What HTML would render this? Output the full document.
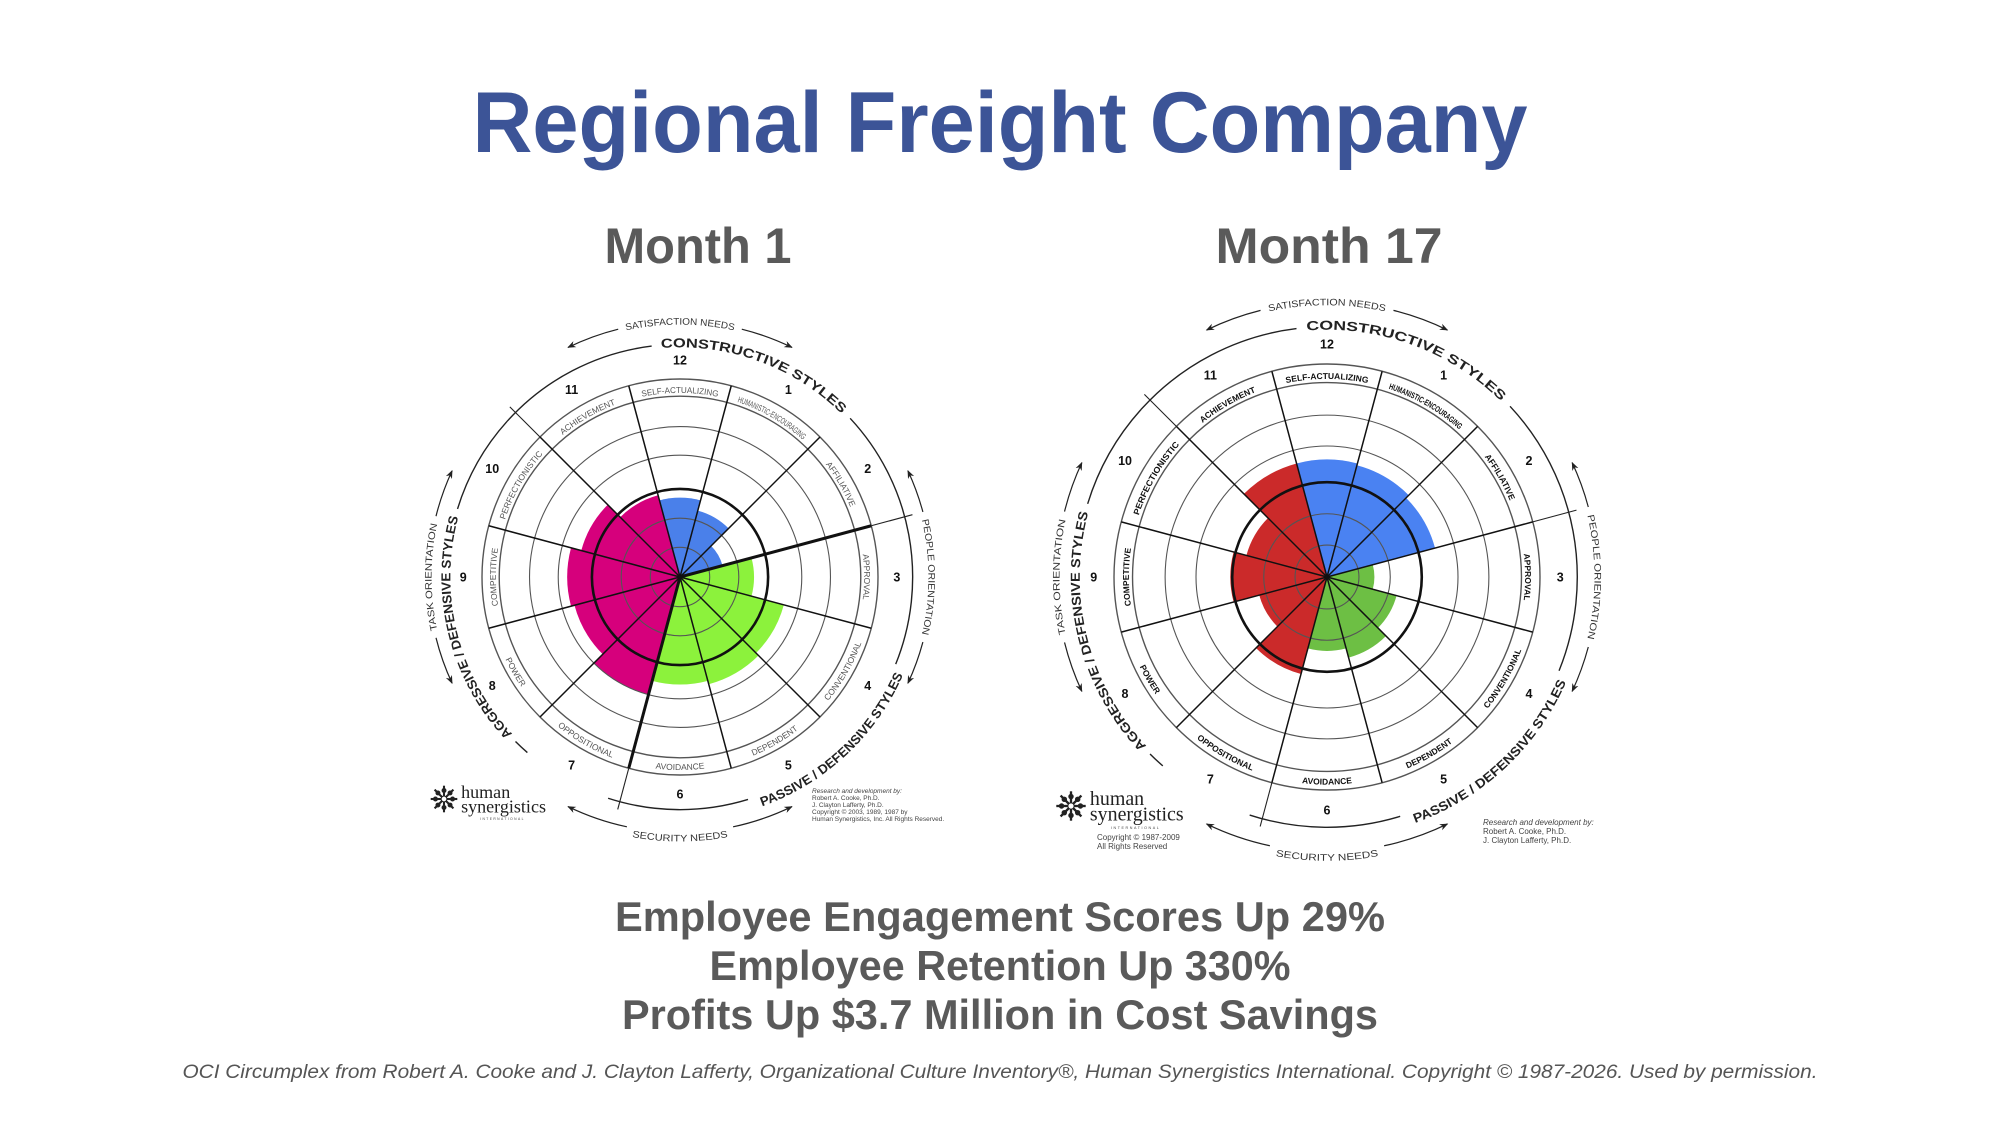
<!DOCTYPE html>
<html><head><meta charset="utf-8"><style>
html,body{margin:0;padding:0;background:#fff;}
svg{display:block;}
</style></head><body>
<svg id="page" width="2000" height="1125" viewBox="0 0 2000 1125" xmlns="http://www.w3.org/2000/svg" font-family="Liberation Sans, sans-serif">
<defs>
<marker id="ah" viewBox="0 0 10 10" refX="9" refY="5" markerWidth="7" markerHeight="7" orient="auto-start-reverse"><path d="M0,1 L10,5 L0,9 L3,5 Z" fill="#222"/></marker>
</defs>
<text x="1000" y="152" text-anchor="middle" font-size="86" font-weight="bold" fill="#3c5497" textLength="1055" lengthAdjust="spacingAndGlyphs">Regional Freight Company</text>
<text x="698" y="263" text-anchor="middle" font-size="50" font-weight="bold" fill="#5a5a5a" textLength="187" lengthAdjust="spacingAndGlyphs">Month 1</text>
<text x="1329" y="263" text-anchor="middle" font-size="50" font-weight="bold" fill="#5a5a5a" textLength="227" lengthAdjust="spacingAndGlyphs">Month 17</text>
<g id="chart1"></g>
<g id="chart2"></g>
<text x="1000" y="931" text-anchor="middle" font-size="42" font-weight="bold" fill="#5a5a5a" textLength="770" lengthAdjust="spacingAndGlyphs">Employee Engagement Scores Up 29%</text>
<text x="1000" y="980" text-anchor="middle" font-size="42" font-weight="bold" fill="#5a5a5a" textLength="581" lengthAdjust="spacingAndGlyphs">Employee Retention Up 330%</text>
<text x="1000" y="1029" text-anchor="middle" font-size="42" font-weight="bold" fill="#5a5a5a" textLength="756" lengthAdjust="spacingAndGlyphs">Profits Up $3.7 Million in Cost Savings</text>
<text x="1000" y="1078" text-anchor="middle" font-size="19" font-style="italic" fill="#555" textLength="1635" lengthAdjust="spacingAndGlyphs">OCI Circumplex from Robert A. Cooke and J. Clayton Lafferty, Organizational Culture Inventory®, Human Synergistics International. Copyright © 1987-2026. Used by permission.</text>
</svg>
<script>
// sector numbers 1..12 and their style names
const sectors = [1,2,3,4,5,6,7,8,9,10,11,12];
const sectorNames = ["HUMANISTIC-ENCOURAGING","AFFILIATIVE","APPROVAL","CONVENTIONAL","DEPENDENT","AVOIDANCE","OPPOSITIONAL","POWER","COMPETITIVE","PERFECTIONISTIC","ACHIEVEMENT","SELF-ACTUALIZING"];
// percentile scores per sector (index = sector-1); 50 = bold ring
const month1Scores = [39,25,42,61,63,61,69,62,64,58,48,45];
const month17Scores = [61,59,25,38,44,39,53,37,51,44,62,62];
const month1Colors = {constructive:"#4a80ea", passive:"#8cf23c", aggressive:"#d6007c"};
const month17Colors = {constructive:"#4a82f2", passive:"#6dbf44", aggressive:"#cb2a2a"};

const NS = "http://www.w3.org/2000/svg";
let pathId = 0;
function el(tag, attrs, parent){
  const e = document.createElementNS(NS, tag);
  for (const k in attrs) e.setAttribute(k, attrs[k]);
  if (parent) parent.appendChild(e);
  return e;
}
function rad(d){ return d*Math.PI/180; }
function pt(a, r){ return [r*Math.cos(rad(a)), r*Math.sin(rad(a))]; }
function arcD(a1, a2, r){
  const p1 = pt(a1,r), p2 = pt(a2,r);
  const large = Math.abs(a2-a1) > 180 ? 1 : 0;
  const sweep = a2 > a1 ? 1 : 0;
  return `M${p1[0].toFixed(2)},${p1[1].toFixed(2)} A${r},${r} 0 ${large} ${sweep} ${p2[0].toFixed(2)},${p2[1].toFixed(2)}`;
}
function sectorCenter(s){ return -90 + 30*(s % 12); }
// text along arc; fit = fraction of arc length the text should occupy (0 = natural)
function arcText(g, a1, a2, r, txt, size, weight, extra, fit){
  const id = "tp" + (pathId++);
  const pa = a2 > a1 ? a1 - 20 : a1 + 20, pb = a2 > a1 ? a2 + 20 : a2 - 20;
  el("path", {id:id, d:arcD(pa,pb,r), fill:"none", stroke:"none"}, g);
  const t = el("text", {"font-size":size, "font-weight":weight||"normal", fill:"#222", "text-anchor":"middle"}, g);
  if (extra) for (const k in extra) t.setAttribute(k, extra[k]);
  const tp = el("textPath", {href:"#"+id, startOffset:"50%"}, t);
  if (fit) {
    tp.setAttribute("textLength", (Math.abs(a2-a1)*Math.PI/180*r*fit).toFixed(1));
    tp.setAttribute("lengthAdjust", "spacingAndGlyphs");
  }
  tp.textContent = txt;
  return t;
}

function drawChart(gid, cx, cy, R, scores, colors, boldSpokes, v17){
  const root = document.getElementById(gid);
  const g = el("g", {transform:`translate(${cx},${cy})`}, root);
  const rOf = v => v/50*0.445*R;
  sectors.forEach((s, i) => {
    const c = sectorCenter(s);
    const grp = (s===12||s<=2) ? "constructive" : (s<=6 ? "passive" : "aggressive");
    const r = rOf(scores[i]);
    const p1 = pt(c-15, r), p2 = pt(c+15, r);
    const w = el("path", {d:`M0,0 L${p1[0].toFixed(2)},${p1[1].toFixed(2)} A${r},${r} 0 0 1 ${p2[0].toFixed(2)},${p2[1].toFixed(2)} Z`, fill:colors[grp]}, g);
    
    
  });
  const ringF = [0.15,0.297,0.445,0.615,0.76,0.913,1];
  ringF.forEach((f, i) => {
    el("circle", {cx:0, cy:0, r:f*R, fill:"none", stroke: i===2 ? "#111" : "#555", "stroke-width": i===2 ? 2.6 : (i>=5 ? 1.4 : 1.1)}, g);
  });
  for (let k=0;k<12;k++){
    const a = -105 + 30*k;
    const bold = boldSpokes.includes(a);
    const end = pt(a, R);
    el("line", {x1:0, y1:0, x2:end[0], y2:end[1], stroke:"#111", "stroke-width": bold ? 3 : 1.5}, g);
  }
  sectors.forEach((s, i) => {
    const c = sectorCenter(s);
    const col = v17 ? "#111" : "#555";
    const w = v17 ? "bold" : "normal";
    const fit = sectorNames[i].length > 14 ? 0.82 : 0;
    let t;
    if (s>=4 && s<=8){
      t = arcText(g, c+14.5, c-14.5, R*0.975, sectorNames[i], 8.5, w, {fill:col}, fit);
    } else {
      t = arcText(g, c-14.5, c+14.5, R*0.93, sectorNames[i], 8.5, w, {fill:col}, fit);
    }
    
    const np = pt(c, R*1.095);
    const n = el("text", {x:np[0], y:np[1]+4.5, "text-anchor":"middle", "font-size":12.5, "font-weight":"bold", fill:"#111"}, g);
    n.textContent = s;
  });
  const A = R*1.175;
  const segs = [[-138,-97],[-43,22],[73,108],[131,135],[197,222]];
  segs.forEach(sg => el("path", {d:arcD(sg[0],sg[1],A), fill:"none", stroke:"#222", "stroke-width":1.4}, g));
  [-135, -15, 105].forEach(a => {
    const p1 = pt(a, R*1.0), p2 = pt(a, A+8);
    el("line", {x1:p1[0], y1:p1[1], x2:p2[0], y2:p2[1], stroke:"#222", "stroke-width":1.1}, g);
  });
  arcText(g, -96, -44, A-3, "CONSTRUCTIVE STYLES", 13, "bold", null, 0.95);
  arcText(g, 71, 23, A+11, "PASSIVE / DEFENSIVE STYLES", 13, "bold", null, 0.97);
  arcText(g, 136, 196, A-3, "AGGRESSIVE / DEFENSIVE STYLES", 13, "bold", null, 0.97);
  const N = R*1.29;
  el("path", {d:arcD(-116,-104,N), fill:"none", stroke:"#222", "stroke-width":1.2, "marker-start":"url(#ah)"}, g);
  el("path", {d:arcD(-76,-64,N), fill:"none", stroke:"#222", "stroke-width":1.2, "marker-end":"url(#ah)"}, g);
  arcText(g, -103, -77, N-3, "SATISFACTION NEEDS", 9.5, "normal", {fill:"#333"}, 0.95);
  el("path", {d:arcD(64,78,N), fill:"none", stroke:"#222", "stroke-width":1.2, "marker-start":"url(#ah)"}, g);
  el("path", {d:arcD(102,116,N), fill:"none", stroke:"#222", "stroke-width":1.2, "marker-end":"url(#ah)"}, g);
  arcText(g, 101, 79, N+9, "SECURITY NEEDS", 9.5, "normal", {fill:"#333"}, 0.95);
  const P = R*1.27;
  el("path", {d:arcD(-25,-15,P), fill:"none", stroke:"#222", "stroke-width":1.2, "marker-start":"url(#ah)"}, g);
  el("path", {d:arcD(15,25,P), fill:"none", stroke:"#222", "stroke-width":1.2, "marker-end":"url(#ah)"}, g);
  arcText(g, -14, 14, P-3, "PEOPLE ORIENTATION", 9.5, "normal", {fill:"#333"}, 0.95);
  el("path", {d:arcD(155,166,P), fill:"none", stroke:"#222", "stroke-width":1.2, "marker-start":"url(#ah)"}, g);
  el("path", {d:arcD(194,205,P), fill:"none", stroke:"#222", "stroke-width":1.2, "marker-end":"url(#ah)"}, g);
  arcText(g, 167, 193, P-3, "TASK ORIENTATION", 9.5, "normal", {fill:"#333"}, 0.95);
  return root;
}

function logo(parent, x, y, s){
  const g = el("g", {transform:`translate(${x},${y}) scale(${s})`}, parent);
  
  
  for (let k=0;k<8;k++){
    const a = k*45;
    const p = pt(a, 14);
    el("line", {x1:0,y1:0,x2:p[0],y2:p[1],stroke:"#222","stroke-width":2.2}, g);
    const q = pt(a, 9);
    el("circle", {cx:q[0], cy:q[1], r:2.6, fill:"#222"}, g);
  }
  el("circle", {cx:0, cy:0, r:3, fill:"#fff", stroke:"#222"}, g);
  const t1 = el("text", {x:18, y:-1, "font-family":"Liberation Serif, serif", "font-size":19, fill:"#222"}, g); t1.textContent = "human";
  const t2 = el("text", {x:18, y:14, "font-family":"Liberation Serif, serif", "font-size":19, fill:"#222"}, g); t2.textContent = "synergistics";
  const t3 = el("text", {x:38, y:22, "font-size":3.5, fill:"#444", "letter-spacing":"1.5"}, g); t3.textContent = "INTERNATIONAL";
}
function lines(parent, x, y, arr, fs, lh, italicFirst){
  arr.forEach((l,i) => {
    const t = el("text", {x:x, y:y+i*lh, "font-size":fs, fill:"#444"}, parent);
    if (i===0 && italicFirst) t.setAttribute("font-style","italic");
    t.textContent = l;
  });
}

const c1 = drawChart("chart1", 680, 577, 198, month1Scores, month1Colors, [-135,-15,105], false);
const c2 = drawChart("chart2", 1327, 577, 213, month17Scores, month17Colors, [], true);
logo(c1, 444, 799, 0.95);
lines(c1, 812, 793, ["Research and development by:","Robert A. Cooke, Ph.D.","J. Clayton Lafferty, Ph.D.","Copyright © 2003, 1989, 1987 by","Human Synergistics, Inc. All Rights Reserved."], 6.5, 7, true);
logo(c2, 1071, 806, 1.05);
lines(c2, 1097, 840, ["Copyright © 1987-2009","All Rights Reserved"], 8, 9, false);
lines(c2, 1483, 825, ["Research and development by:","Robert A. Cooke, Ph.D.","J. Clayton Lafferty, Ph.D."], 8, 9, true);
</script>
</body></html>
